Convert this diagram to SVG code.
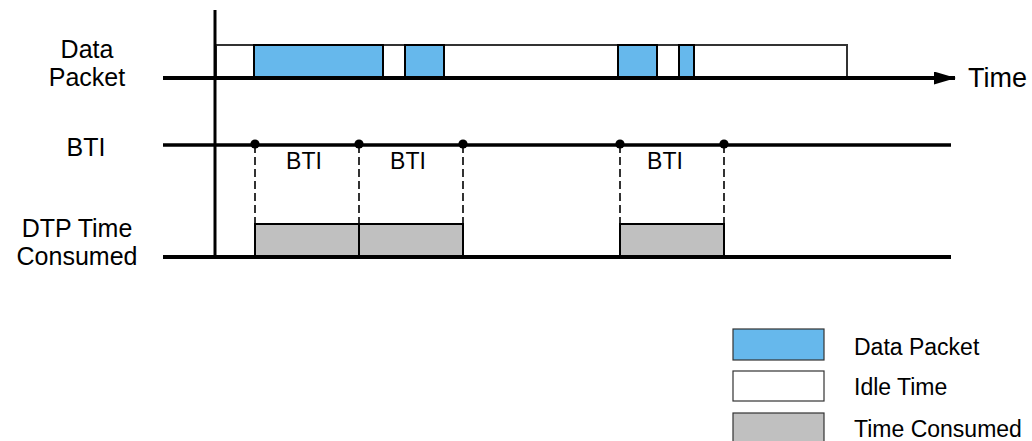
<svg xmlns="http://www.w3.org/2000/svg" width="1032" height="441" viewBox="0 0 1032 441">
<defs>
<style>
text{font-family:"Liberation Sans",Arial,sans-serif;fill:#000}
.lbl{font-size:25px;text-anchor:middle}
.bti{font-size:23px;text-anchor:middle}
.leg{font-size:23px}
.axis{stroke:#000;stroke-width:4;fill:none}
.dash{stroke:#000;stroke-width:1.6;stroke-dasharray:8 4;fill:none}
.blue{fill:#66B8EC;stroke:#000;stroke-width:2}
.idle{fill:#fff;stroke:#333;stroke-width:2}
.used{fill:#C0C0C0;stroke:#000;stroke-width:2}
.dot{fill:#000}
</style>
<marker id="arr" markerWidth="22" markerHeight="13" refX="21" refY="6.5" orient="auto" markerUnits="userSpaceOnUse">
<path d="M0,0 L22,6.5 L0,13 Z" fill="#000"/>
</marker>
</defs>
<rect width="1032" height="441" fill="#fff"/>

<g id="labels">
<text class="lbl" x="87" y="58">Data</text>
<text class="lbl" x="87" y="86">Packet</text>
<text class="lbl" x="86" y="156">BTI</text>
<text class="lbl" x="77" y="237">DTP Time</text>
<text class="lbl" x="77" y="265">Consumed</text>
<text x="968" y="87" style="font-size:27px">Time</text>
</g>

<g id="data-packet-row">
<rect class="idle" x="216" y="45" width="631" height="32"/>
<rect class="blue" x="254" y="45" width="129" height="32"/>
<rect class="blue" x="405" y="45" width="39" height="32"/>
<rect class="blue" x="618" y="45" width="39" height="32"/>
<rect class="blue" x="679" y="45" width="15" height="32"/>
</g>

<g id="dtp-row">
<rect class="used" x="255" y="224" width="104" height="32"/>
<rect class="used" x="359" y="224" width="104" height="32"/>
<rect class="used" x="620" y="224" width="104" height="32"/>
</g>

<g id="connectors">
<line class="axis" x1="215" y1="10" x2="215" y2="258" style="stroke-width:3"/>
<line class="axis" x1="163" y1="78" x2="955" y2="78" marker-end="url(#arr)"/>
<line class="axis" x1="163" y1="145" x2="951" y2="145" style="stroke-width:3.5"/>
<line class="axis" x1="163" y1="257" x2="951" y2="257"/>
<line class="dash" x1="255" y1="145" x2="255" y2="224"/>
<line class="dash" x1="359" y1="145" x2="359" y2="224"/>
<line class="dash" x1="463" y1="145" x2="463" y2="224"/>
<line class="dash" x1="620" y1="145" x2="620" y2="224"/>
<line class="dash" x1="724" y1="145" x2="724" y2="224"/>
<circle class="dot" cx="255" cy="144" r="4.6"/>
<circle class="dot" cx="359" cy="144" r="4.6"/>
<circle class="dot" cx="463" cy="144" r="4.6"/>
<circle class="dot" cx="620" cy="144" r="4.6"/>
<circle class="dot" cx="724" cy="144" r="4.6"/>
</g>

<g id="bti-labels">
<text class="bti" x="304" y="169">BTI</text>
<text class="bti" x="408" y="169">BTI</text>
<text class="bti" x="665" y="169">BTI</text>
</g>

<g id="legend">
<rect x="733" y="329" width="91" height="31" fill="#66B8EC" stroke="#333" stroke-width="1.2"/>
<rect x="733" y="371" width="91" height="30" fill="#fff" stroke="#333" stroke-width="1.2"/>
<rect x="733" y="413" width="91" height="32" fill="#C0C0C0" stroke="#333" stroke-width="1.2"/>
<text class="leg" x="854" y="355">Data Packet</text>
<text class="leg" x="854" y="395">Idle Time</text>
<text class="leg" x="854" y="437">Time Consumed</text>
</g>
</svg>
